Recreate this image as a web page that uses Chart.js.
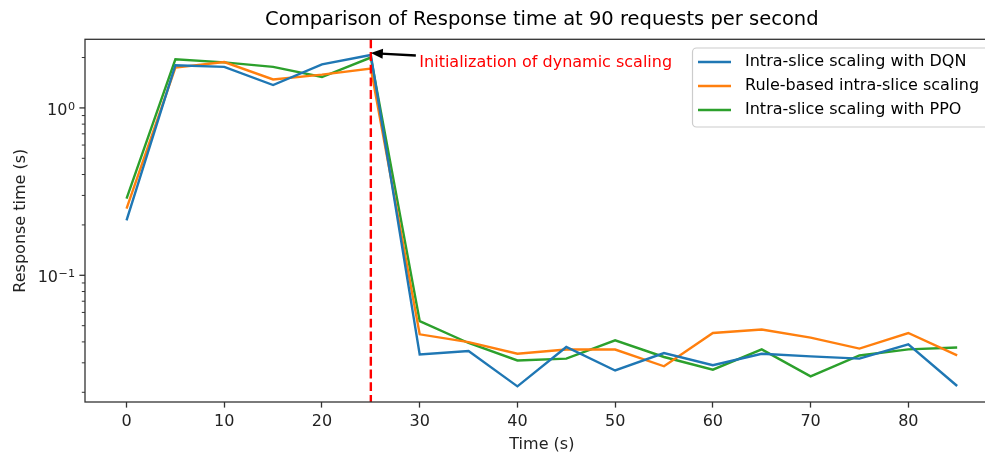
<!DOCTYPE html>
<html>
<head>
<meta charset="utf-8">
<script src="https://cdn.jsdelivr.net/npm/chart.js@4.4.0/dist/chart.umd.min.js"></script>
<style>
    html, body { margin: 0; padding: 0; background: #fff; overflow: hidden; }
    #wrap { width: 1000px; height: 454px; }
</style>
</head>
<body>
<div id="wrap"><canvas id="responseChart" width="1000" height="454"></canvas></div>
<script>
// Data
const timeSteps = [0, 5, 10, 15, 20, 25, 30, 35, 40, 45, 50, 55, 60, 65, 70, 75, 80, 85];
const dqnTimes  = [0.213, 1.80, 1.76, 1.37, 1.82, 2.07, 0.0337, 0.0353, 0.0217, 0.0373, 0.0270, 0.0343, 0.0290, 0.0340, 0.0328, 0.0318, 0.0387, 0.0218];
const ruleTimes = [0.250, 1.74, 1.88, 1.48, 1.58, 1.72, 0.0444, 0.0399, 0.0340, 0.0360, 0.0360, 0.0286, 0.0452, 0.0474, 0.0424, 0.0365, 0.0452, 0.0332];
const ppoTimes  = [0.287, 1.95, 1.87, 1.76, 1.53, 2.00, 0.0533, 0.0394, 0.0310, 0.0318, 0.0409, 0.0325, 0.0273, 0.0361, 0.0249, 0.0332, 0.0361, 0.0370];
const seriesNames = ['Intra-slice scaling with DQN', 'Rule-based intra-slice scaling', 'Intra-slice scaling with PPO'];
const seriesColors = ['#1f77b4', '#ff7f0e', '#2ca02c'];
const xTicks = [0, 10, 20, 30, 40, 50, 60, 70, 80];
const yTicks = [0.02, 0.03, 0.04, 0.05, 0.06, 0.07, 0.08, 0.09, 0.1, 0.2, 0.3, 0.4, 0.5, 0.6, 0.7, 0.8, 0.9, 1, 2];
const yMajorTicks = [0.1, 1];
const yMajorExponents = ['\u22121', '0'];
const scalingStart = 25;
const chartTitle = 'Comparison of Response time at 90 requests per second';
const noteText = 'Initialization of dynamic scaling';

const FONT = 'DejaVu Sans';
const AXIS_COLOR = '#333';

function toPoints(values) {
    return timeSteps.map((t, i) => ({ x: t, y: values[i] }));
}

// spines, y ticks + labels, title, legend and the annotation
const decorations = {
    id: 'decorations',
    afterDatasetsDraw(chart) {
        const ctx = chart.ctx;
        const area = chart.chartArea;
        const xs = chart.scales.x;
        const ys = chart.scales.y;

        // red dashed line at start of dynamic scaling
        const lx = xs.getPixelForValue(scalingStart);
        ctx.save();
        ctx.strokeStyle = '#ff0000';
        ctx.lineWidth = 2.4;
        ctx.setLineDash([8.9, 3.8]);
        ctx.beginPath();
        ctx.moveTo(lx, area.top);
        ctx.lineTo(lx, area.bottom);
        ctx.stroke();
        ctx.restore();

        // arrow pointing at the DQN value at that time
        const dataY = ys.getPixelForValue(dqnTimes[timeSteps.indexOf(scalingStart)]);
        const tipX = lx, tipY = dataY - 2;
        const tailX = tipX + 45, tailY = tipY + 2.5;
        const ang = Math.atan2(tipY - tailY, tipX - tailX);
        ctx.save();
        ctx.strokeStyle = '#000';
        ctx.fillStyle = '#000';
        ctx.lineWidth = 2.4;
        ctx.beginPath();
        ctx.moveTo(tailX, tailY);
        ctx.lineTo(tipX - 10 * Math.cos(ang), tipY - 10 * Math.sin(ang));
        ctx.stroke();
        ctx.beginPath();
        ctx.moveTo(tipX, tipY);
        ctx.lineTo(tipX - 12 * Math.cos(ang) + 5 * Math.sin(ang), tipY - 12 * Math.sin(ang) - 5 * Math.cos(ang));
        ctx.lineTo(tipX - 12 * Math.cos(ang) - 5 * Math.sin(ang), tipY - 12 * Math.sin(ang) + 5 * Math.cos(ang));
        ctx.closePath();
        ctx.fill();
        ctx.fillStyle = '#ff0000';
        ctx.font = '16px "' + FONT + '"';
        ctx.textAlign = 'left';
        ctx.textBaseline = 'middle';
        ctx.fillText(noteText, tailX + 3.5, dataY + 7.5);
        ctx.restore();
    },
    afterDraw(chart) {
        const ctx = chart.ctx;
        const area = chart.chartArea;
        const ys = chart.scales.y;

        // box around the axes
        ctx.save();
        ctx.strokeStyle = AXIS_COLOR;
        ctx.lineWidth = 1.3;
        ctx.strokeRect(area.left, area.top, area.right - area.left, area.bottom - area.top);

        // y ticks, shorter for minor ones
        yTicks.forEach(v => {
            const py = ys.getPixelForValue(v);
            const major = yMajorTicks.includes(v);
            ctx.lineWidth = major ? 1.3 : 1;
            ctx.beginPath();
            ctx.moveTo(area.left - (major ? 5.6 : 3.2), py);
            ctx.lineTo(area.left, py);
            ctx.stroke();
        });

        // y labels as 10 with a raised exponent
        ctx.fillStyle = '#222';
        ctx.textAlign = 'right';
        ctx.textBaseline = 'alphabetic';
        yMajorTicks.forEach((v, i) => {
            const py = ys.getPixelForValue(v);
            const right = area.left - 10;
            ctx.font = '11.2px "' + FONT + '"';
            const supW = ctx.measureText(yMajorExponents[i]).width;
            ctx.fillText(yMajorExponents[i], right, py + 2);
            ctx.font = '16px "' + FONT + '"';
            ctx.fillText('10', right - supW - 0.5, py + 7);
        });

        // title
        ctx.fillStyle = '#000';
        ctx.font = '19.5px "' + FONT + '"';
        ctx.textAlign = 'center';
        ctx.textBaseline = 'middle';
        ctx.fillText(chartTitle, (area.left + area.right) / 2, 20);

        // legend
        const lgX = 692.5, lgY = 48, lgW = 320, lgH = 79;
        ctx.beginPath();
        ctx.roundRect(lgX, lgY, lgW, lgH, 4);
        ctx.fillStyle = 'rgba(255,255,255,0.8)';
        ctx.fill();
        ctx.strokeStyle = '#cccccc';
        ctx.lineWidth = 1.2;
        ctx.stroke();
        ctx.font = '16px "' + FONT + '"';
        ctx.textAlign = 'left';
        seriesNames.forEach((name, i) => {
            const ry = 62 + i * 24;
            ctx.strokeStyle = seriesColors[i];
            ctx.lineWidth = 2.4;
            ctx.beginPath();
            ctx.moveTo(698, ry);
            ctx.lineTo(731, ry);
            ctx.stroke();
            ctx.fillStyle = '#000';
            ctx.fillText(name, 745, ry);
        });
        ctx.restore();
    }
};

const ctx = document.getElementById('responseChart').getContext('2d');
const responseChart = new Chart(ctx, {
    type: 'line',
    data: {
        datasets: [dqnTimes, ruleTimes, ppoTimes].map((vals, i) => ({
            label: seriesNames[i],
            data: toPoints(vals),
            borderColor: seriesColors[i],
            backgroundColor: seriesColors[i],
            borderWidth: 2.4,
            pointRadius: 0,
            tension: 0,
            fill: false
        }))
    },
    options: {
        responsive: false,
        animation: false,
        devicePixelRatio: 1,
        layout: { padding: { top: 39.3, right: 1.3, left: 0, bottom: 0 } },
        plugins: {
            legend: { display: false },
            title: { display: false },
            tooltip: { enabled: false }
        },
        scales: {
            x: {
                type: 'linear',
                min: -4.25,
                max: 89.25,
                afterBuildTicks: scale => { scale.ticks = xTicks.map(v => ({ value: v })); },
                afterFit: scale => { scale.height = 52; },
                grid: { drawOnChartArea: false, tickLength: 5.6, tickWidth: 1.3, tickColor: AXIS_COLOR },
                border: { display: false },
                ticks: { color: '#222', font: { family: FONT, size: 16 }, padding: 5, maxRotation: 0 },
                title: { display: true, text: 'Time (s)', color: '#222', font: { family: FONT, size: 16 }, padding: { top: 0, bottom: 0 } }
            },
            y: {
                type: 'logarithmic',
                min: 0.0175,
                max: 2.57,
                afterBuildTicks: scale => { scale.ticks = yTicks.map(v => ({ value: v })); },
                afterFit: scale => { scale.width = 85; },
                grid: { display: false },
                border: { display: false },
                ticks: { display: false },
                title: { display: true, text: 'Response time (s)', color: '#222', font: { family: FONT, size: 16 }, padding: { top: 11, bottom: 0 } }
            }
        }
    },
    plugins: [decorations]
});
</script>
</body>
</html>
